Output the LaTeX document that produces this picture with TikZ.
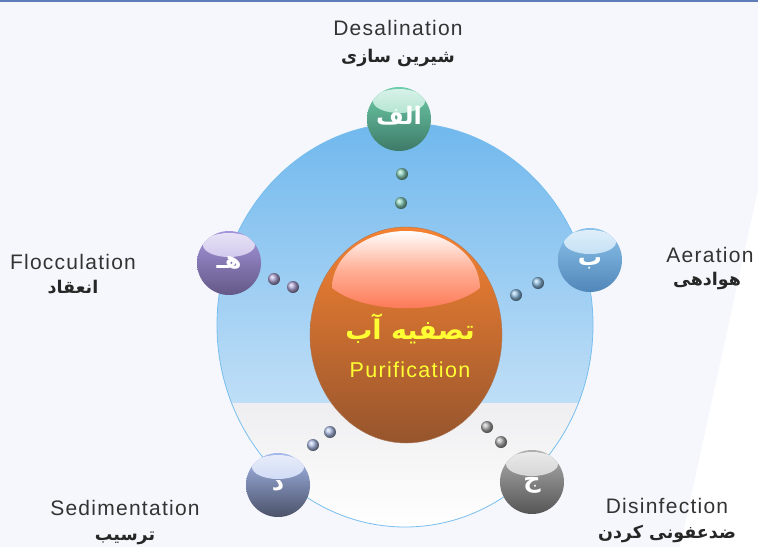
\documentclass[tikz,border=0pt]{standalone}
\usepackage{fontspec}
\setmainfont{Liberation Sans}
\newfontfamily\latinfont{Liberation Sans}[LetterSpace=6]
\newfontfamily\farsifont[Script=Arabic]{DejaVu Sans}
\TeXXeTstate=1
\usetikzlibrary{shapes.geometric}

\definecolor{bg}{RGB}{246,247,252}
\definecolor{topline}{RGB}{95,125,185}
\definecolor{pooltop}{RGB}{112,184,237}
\definecolor{poolmid}{RGB}{226,239,251}
\definecolor{poolgray}{RGB}{238,238,240}
\definecolor{ringblue}{RGB}{120,190,238}
\definecolor{orangetop}{RGB}{245,130,50}
\definecolor{orangebot}{RGB}{150,85,45}
\definecolor{salmon}{RGB}{252,120,85}
\definecolor{salmonmid}{RGB}{255,175,150}
\definecolor{textyellow}{RGB}{255,255,51}
\definecolor{labelgray}{RGB}{51,51,51}
\definecolor{greentop}{RGB}{110,205,170}
\definecolor{greenbot}{RGB}{62,122,104}
\definecolor{bluetop}{RGB}{140,195,235}
\definecolor{bluebot}{RGB}{80,135,185}
\definecolor{graytop}{RGB}{175,175,175}
\definecolor{graybot}{RGB}{85,85,85}
\definecolor{slatetop}{RGB}{165,185,235}
\definecolor{slatebot}{RGB}{75,82,105}
\definecolor{purpletop}{RGB}{165,150,220}
\definecolor{purplebot}{RGB}{100,88,135}
\definecolor{greendot}{RGB}{70,180,145}
\definecolor{bluedot}{RGB}{80,150,205}
\definecolor{graydot}{RGB}{130,130,130}
\definecolor{slatedot}{RGB}{130,155,215}
\definecolor{purpledot}{RGB}{130,115,190}

\begin{document}
\begin{tikzpicture}[
            x=1pt, y=1pt,
            Ball/.style 2 args={circle, minimum size=64pt, inner sep=0pt, top color=#1, bottom color=#2,
                text height=10pt, text depth=0pt,
                text=white, font=\farsifont\bfseries\fontsize{24}{24}\selectfont,
                path picture={\shade[top color=#1!25!white, bottom color=#1!90!white]
                    ([yshift=-14pt]path picture bounding box.north) ellipse (26pt and 12pt);}},
            Dot/.style={circle, minimum size=12pt, inner sep=0pt, ball color=#1!65!white},
            EnLabel/.style={anchor=base, text=labelgray, font=\latinfont\fontsize{21}{21}\selectfont},
            FaLabel/.style={anchor=base, text=black!85, font=\farsifont\bfseries\fontsize{17.5}{17.5}\selectfont},
            ]
            \useasboundingbox (0,0) rectangle (758,-547);
            \fill[bg] (0,0) rectangle (758,-547);
            \fill[white] (758,-190) -- (680,-547) -- (758,-547) -- cycle;
            \draw[topline, line width=3pt] (0,0) -- (758,0);

            % pool
            \node[ellipse, minimum width=376pt, minimum height=404pt, inner sep=0pt, draw=ringblue, line width=0.8pt,
                path picture={
                    \shade[top color=pooltop, bottom color=poolmid] (path picture bounding box.north west)
                        rectangle ([yshift=124pt]path picture bounding box.south east);
                    \shade[top color=poolgray, bottom color=white] ([yshift=124pt]path picture bounding box.south west)
                        rectangle (path picture bounding box.south east);
                }] (pool) at (405,-325) {};

            % dots
            \node[Dot=greendot] (alef-1) at (402,-174) {};
            \node[Dot=greendot] (alef-2) at (401,-203) {};
            \node[Dot=bluedot] (be-1) at (538,-283) {};
            \node[Dot=bluedot] (be-2) at (516,-295) {};
            \node[Dot=graydot] (jim-1) at (501,-442) {};
            \node[Dot=graydot] (jim-2) at (487,-427) {};
            \node[Dot=slatedot] (dal-1) at (313,-445) {};
            \node[Dot=slatedot] (dal-2) at (330,-432) {};
            \node[Dot=purpledot] (he-1) at (274,-279) {};
            \node[Dot=purpledot] (he-2) at (293,-287) {};

            % core
            \node[ellipse, minimum width=192pt, minimum height=216pt, inner sep=0pt,
                top color=orangetop, bottom color=orangebot, draw=orangebot!80, line width=0.4pt,
                path picture={
                    \begin{scope}
                    \clip ([shift={(-74pt,47pt)}]path picture bounding box.center)
                        arc[start angle=180, end angle=0, x radius=74pt, y radius=57pt]
                        .. controls +(-34pt,-27pt) and +(34pt,-27pt) ..
                        ([shift={(-74pt,47pt)}]path picture bounding box.center) -- cycle;
                    \shade[top color=white, bottom color=salmon, middle color=salmonmid]
                        ([shift={(-75pt,25pt)}]path picture bounding box.center)
                        rectangle ([shift={(75pt,105pt)}]path picture bounding box.center);
                    \end{scope}
                }] (core) at (406,-335) {};
            \node[anchor=base, text=textyellow, font=\farsifont\bfseries\fontsize{27}{27}\selectfont]
                (corefa) at (410,-339) {\beginR تصفیه آب\endR};
            \node[anchor=base, text=textyellow, font=\latinfont\fontsize{21.5}{21.5}\selectfont]
                (coreen) at (410,-377) {Purification};

            % spheres
            \node[Ball={greentop}{greenbot}] (alef) at (399,-119) {\beginR الف\endR};
            \node[Ball={bluetop}{bluebot}] (be) at (590,-260) {ب};
            \node[Ball={graytop}{graybot}] (jim) at (532,-482) {ج};
            \node[Ball={slatetop}{slatebot}] (dal) at (278,-485) {د};
            \node[Ball={purpletop}{purplebot}] (he) at (229,-263) {\beginR هـ\endR};

            % labels
            \node[EnLabel] (alef-en) at (398,-35) {Desalination};
            \node[FaLabel] (alef-fa) at (398,-62) {\beginR شیرین سازی\endR};
            \node[EnLabel] (be-en) at (710,-262) {Aeration};
            \node[FaLabel] (be-fa) at (707,-285) {\beginR هوادهی\endR};
            \node[EnLabel] (jim-en) at (667,-513) {Disinfection};
            \node[FaLabel] (jim-fa) at (667,-538) {\beginR ضدعفونی کردن\endR};
            \node[EnLabel] (dal-en) at (125,-515) {Sedimentation};
            \node[FaLabel] (dal-fa) at (125,-540) {\beginR ترسیب\endR};
            \node[EnLabel] (he-en) at (73,-269) {Flocculation};
            \node[FaLabel] (he-fa) at (73,-293) {\beginR انعقاد\endR};
        \end{tikzpicture}
\end{document}
